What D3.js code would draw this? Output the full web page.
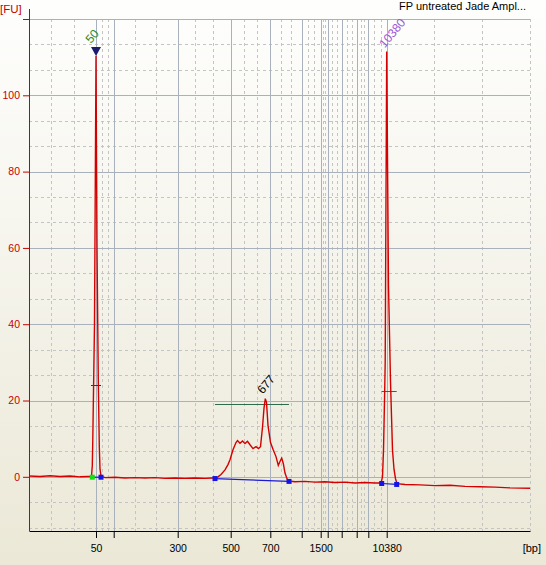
<!DOCTYPE html>
<html>
<head>
<meta charset="utf-8">
<script src="https://cdn.jsdelivr.net/npm/d3@7"></script>
<style>
body { margin: 0; background: #ebe8d7; }
svg { display: block; }
</style>
</head>
<body>
<div class="chart"></div>
<script>
/*
x -> migration time (s), labelled in bp through the ladder
y -> fluorescence [FU]
*/

// ladder: size (bp) and where it runs (s)
var ladderBp   = [50, 100, 300, 500, 700, 1000, 1500, 2000, 3000, 5000, 7000, 10380];
var ladderTime = [33.4, 36.94, 49.74, 60.34, 68.26, 74.54, 78.34, 79.74, 82.54, 85.54, 87.86, 91.54];
var labelBp    = [50, 300, 500, 700, 1500, 10380];

var yTicks  = [0, 20, 40, 60, 80, 100, 120];
var yLabels = [0, 20, 40, 60, 80, 100];

// electropherogram trace
var traceTime = [
    20.0, 22.2, 24.2, 26.2, 28.2, 30.2, 31.8, 32.5,
    32.66, 32.76, 33.1, 33.4, 33.6, 33.86, 34.06, 34.2, 34.4,
    35.2, 37.2, 39.2, 41.2, 43.2, 45.2, 47.2, 49.2, 51.2, 53.2, 55.2, 56.6, 57.2,
    57.8, 58.4, 59.2, 59.8, 60.2, 60.8, 61.4, 61.7, 62.2, 62.7, 63.2, 63.7, 64.2,
    64.8, 65.4, 65.9, 66.3, 66.7, 67.0, 67.26, 67.5, 67.8, 68.3, 68.8, 69.4,
    69.86, 70.2, 70.54, 70.86, 71.2, 71.6, 72.0,
    73.2, 75.2, 77.2, 79.2, 81.2, 83.2, 85.2, 87.2, 89.2, 90.4,
    90.7, 90.9, 91.1, 91.24, 91.54, 91.9, 92.3, 92.7, 93.0, 93.3, 93.6,
    95.2, 98.2, 101.2, 104.2, 107.2, 110.2, 113.2, 116.2, 120.2
];
var traceFU = [
    0.2, 0.1, 0.3, 0.1, 0.2, 0.0, 0.1, 0.1,
    3, 10, 40, 110.3, 60, 25, 8, 2, 0.2,
    -0.2, -0.1, -0.3, -0.2, -0.3, -0.2, -0.4, -0.3, -0.4, -0.3, -0.4, -0.3, -0.3,
    0.0, 0.6, 1.8, 3.2, 4.5, 7.1, 9.0, 9.5, 8.8, 9.4, 8.7, 9.3, 8.4,
    7.4, 7.9, 7.4, 7.9, 13.0, 18.0, 20.5, 19.5, 13.5, 9.0, 7.2, 5.3,
    3.0, 4.0, 4.9, 3.5, 1.0, -0.5, -1.1,
    -1.3, -1.2, -1.4, -1.3, -1.5, -1.4, -1.6, -1.5, -1.6, -1.6,
    0, 7, 20, 30, 111.5, 50, 25, 7, 2, -0.5, -1.8,
    -2.0, -2.1, -2.3, -2.2, -2.5, -2.6, -2.7, -2.9, -3.0
];

// called peaks
var peakBp    = [50, 677, 10380];
var peakFU    = [110.3, 20.5, 111.5];
var peakColor = ['#2a8a2a', '#000000', '#9b55d6'];

// peak / region limits
var rangeStart   = [32.66, 57.2, 90.54];
var rangeEnd     = [34.4, 72.0, 93.54];
var rangeStartFU = [-0.1, -0.45, -1.75];
var rangeEndFU   = [-0.1, -1.2, -2.0];
var widthStart   = [32.4, 57.2, 90.54];
var widthEnd     = [34.4, 72.0, 93.54];
var widthFU      = [24.1, 19.0, 22.5];

var title = 'FP untreated Jade Ampl...';

/*-------------------------------------------------------*/
function main(){
    var red = '#c80000';
    var font = '"Liberation Sans", Arial, sans-serif';

    var margin = { top: 19, right: 16, bottom: 34, left: 29 };
    var width  = 546 - margin.left - margin.right;
    var height = 565 - margin.top - margin.bottom;

    // set the ranges
    var x = d3.scaleLinear()
        .domain([20, 120.2])
        .range([0, width]);
    var y = d3.scaleLinear()
        .domain([-14.2, 120])
        .range([height, 0]);
    // bp -> time, piecewise through the ladder
    var bpToTime = d3.scaleLinear()
        .domain(ladderBp)
        .range(ladderTime);

    var svg = d3.select('.chart').append('svg')
        .attr('width', 546)
        .attr('height', 565);

    /* background gradient */
    var grad = svg.append('defs').append('linearGradient')
        .attr('id', 'bg')
        .attr('x1', 0).attr('y1', 0).attr('x2', 0).attr('y2', 1);
    grad.append('stop').attr('offset', '0%').attr('stop-color', '#fefefd');
    grad.append('stop').attr('offset', '100%').attr('stop-color', '#ebe8d7');
    svg.append('rect')
        .attr('width', 546)
        .attr('height', 565)
        .attr('fill', 'url(#bg)');

    var g = svg.append('g')
        .attr('transform', `translate(${margin.left}, ${margin.top})`);

    /* grid: every interval split in thirds */
    var gridT = [x.domain()[0]].concat(ladderTime, [x.domain()[1]]);
    var minorT = [];
    for(var i = 0; i < gridT.length - 1; i++){
        var step = (gridT[i + 1] - gridT[i]) / 3;
        minorT.push(gridT[i] + step, gridT[i] + 2 * step);
    }
    minorT.push(x.domain()[1]);

    var minorFU = d3.range(-40, 120, 20 / 3).filter((v) => {
        return v > y.domain()[0] && Math.abs(Math.round(v / 20) * 20 - v) > 0.5;
    });

    g.selectAll('.vminor')
        .data(minorT)
        .enter().append('line')
        .attr('x1', (d) => { return Math.round(x(d)) + 0.5; })
        .attr('x2', (d) => { return Math.round(x(d)) + 0.5; })
        .attr('y1', 0)
        .attr('y2', height)
        .attr('stroke', '#c4c4c4')
        .attr('stroke-dasharray', '3,3');

    g.selectAll('.hminor')
        .data(minorFU)
        .enter().append('line')
        .attr('x1', 0)
        .attr('x2', width)
        .attr('y1', (d) => { return Math.round(y(d)) + 0.5; })
        .attr('y2', (d) => { return Math.round(y(d)) + 0.5; })
        .attr('stroke', '#c4c4c4')
        .attr('stroke-dasharray', '3,3');

    g.selectAll('.vmajor')
        .data(ladderTime)
        .enter().append('line')
        .attr('x1', (d) => { return Math.round(x(d)) + 0.5; })
        .attr('x2', (d) => { return Math.round(x(d)) + 0.5; })
        .attr('y1', 0)
        .attr('y2', height)
        .attr('stroke', '#a9b1bd');

    g.selectAll('.hmajor')
        .data(yTicks)
        .enter().append('line')
        .attr('x1', 0)
        .attr('x2', width)
        .attr('y1', (d) => { return Math.round(y(d)) + 0.5; })
        .attr('y2', (d) => { return Math.round(y(d)) + 0.5; })
        .attr('stroke', '#a9b1bd');

    /* peak width bars */
    g.selectAll('.wbar')
        .data(widthFU)
        .enter().append('line')
        .attr('x1', (d, i) => { return x(widthStart[i]); })
        .attr('x2', (d, i) => { return x(widthEnd[i]); })
        .attr('y1', (d) => { return Math.round(y(d)) + 0.5; })
        .attr('y2', (d) => { return Math.round(y(d)) + 0.5; })
        .attr('stroke', (d, i) => { return i === 0 ? '#333333' : '#2d6b4c'; });

    /* trace */
    var line = d3.line()
        .x((d) => { return x(d[0]); })
        .y((d) => { return y(d[1]); });
    g.append('path')
        .datum(d3.zip(traceTime, traceFU))
        .attr('d', line)
        .attr('fill', 'none')
        .attr('stroke', '#d40000')
        .attr('stroke-width', 1.4);

    /* region baselines and limit markers */
    g.selectAll('.base')
        .data(rangeStart)
        .enter().append('line')
        .attr('x1', (d) => { return x(d); })
        .attr('x2', (d, i) => { return x(rangeEnd[i]); })
        .attr('y1', (d, i) => { return y(rangeStartFU[i]); })
        .attr('y2', (d, i) => { return y(rangeEndFU[i]); })
        .attr('stroke', '#1a1ad8')
        .attr('stroke-width', 1.2);

    var dots = [];
    rangeStart.forEach((t, i) => {
        dots.push({ t: t, fu: rangeStartFU[i], c: i === 0 ? '#12e012' : '#1414e6' });
        dots.push({ t: rangeEnd[i], fu: rangeEndFU[i], c: '#1414e6' });
    });
    g.selectAll('.dot')
        .data(dots)
        .enter().append('rect')
        .attr('x', (d) => { return x(d.t) - 2.5; })
        .attr('y', (d) => { return y(d.fu) - 2.5; })
        .attr('width', 5)
        .attr('height', 5)
        .attr('fill', (d) => { return d.c; });

    /* peak labels */
    peakBp.forEach((bp, i) => {
        var px = x(bpToTime(bp));
        var py = y(peakFU[i]);
        var lx = px - 2, ly = py - 3;
        if(i === 0){
            // marker triangle over the lower marker
            g.append('path')
                .attr('d', `M${px - 5},${py - 9}L${px + 5},${py - 9}L${px},${py}Z`)
                .attr('fill', '#1c1c6e');
            lx = px - 5; ly = py - 12;
        }
        if(i === 1){ lx = px - 3; ly = py - 4; }
        g.append('text')
            .attr('transform', `translate(${lx}, ${ly}) rotate(-50)`)
            .attr('fill', peakColor[i])
            .style('font', `12px ${font}`)
            .text(bp);
    });

    /* x axis */
    var xa = g.append('g')
        .attr('transform', `translate(0, ${height})`)
        .call(d3.axisBottom(x)
            .tickValues(ladderTime)
            .tickSize(7)
            .tickSizeOuter(0)
            .tickPadding(7)
            .tickFormat((d, i) => { return labelBp.indexOf(ladderBp[i]) >= 0 ? ladderBp[i] : ''; }));
    xa.attr('font-family', font).attr('font-size', 10.5);
    xa.selectAll('line').attr('stroke', '#000');
    xa.select('.domain').attr('stroke', '#000');
    xa.selectAll('text').attr('fill', '#000');

    /* y axis */
    var ya = g.append('g')
        .call(d3.axisLeft(y)
            .tickValues(yTicks)
            .tickSize(6)
            .tickPadding(3)
            .tickFormat((d) => { return yLabels.indexOf(d) >= 0 ? d : ''; }));
    ya.attr('font-family', font).attr('font-size', 10.5);
    ya.select('.domain').remove();
    ya.selectAll('line').attr('stroke', red);
    ya.selectAll('text').attr('fill', red);
    g.append('line')
        .attr('x1', 0.5).attr('x2', 0.5)
        .attr('y1', -10).attr('y2', height)
        .attr('stroke', red);

    /* units and title */
    svg.append('text')
        .attr('x', 0).attr('y', 13)
        .attr('fill', red)
        .style('font', `11.5px ${font}`)
        .text('[FU]');
    svg.append('text')
        .attr('x', 541).attr('y', 552)
        .attr('text-anchor', 'end')
        .style('font', `11px ${font}`)
        .text('[bp]');
    svg.append('text')
        .attr('x', 526).attr('y', 10)
        .attr('text-anchor', 'end')
        .style('font', `11px ${font}`)
        .text(title);
}

main();
</script>
</body>
</html>
